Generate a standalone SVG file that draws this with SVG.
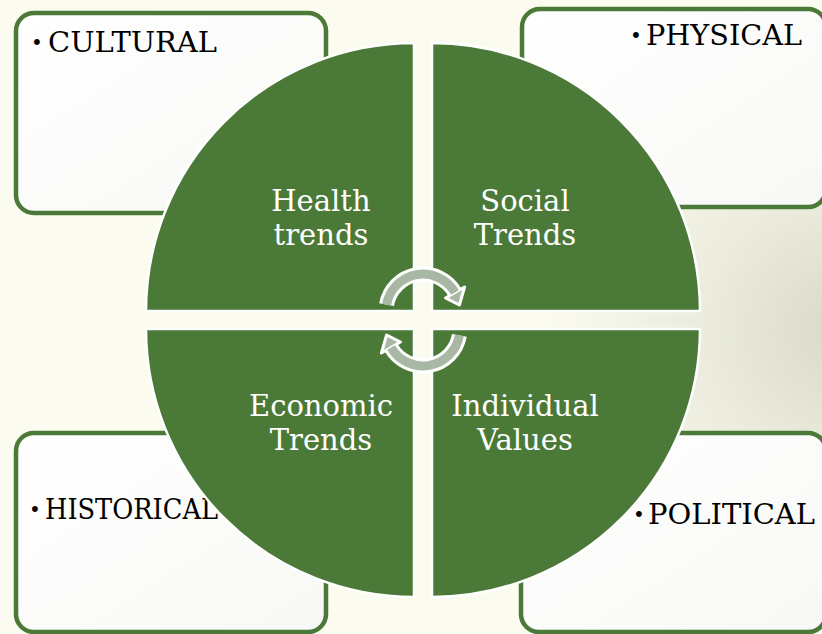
<svg xmlns="http://www.w3.org/2000/svg" width="822" height="634" viewBox="0 0 822 634">
<defs>
<radialGradient id="bg" cx="840" cy="330" r="300" gradientUnits="userSpaceOnUse">
<stop offset="0" stop-color="#D8D9C7"/>
<stop offset="0.45" stop-color="#EBECDD"/>
<stop offset="1" stop-color="#FBFBEF"/>
</radialGradient>
<linearGradient id="boxfill" x1="0" y1="0" x2="1" y2="1">
<stop offset="0" stop-color="#FFFFFF"/>
<stop offset="1" stop-color="#F8F8F6"/>
</linearGradient>
<style>
.box{fill:url(#boxfill);stroke:#4B7A38;stroke-width:4.5}
.quad{fill:#4B7A38;stroke:#FFFFFF;stroke-width:2.5}
.lbl{font-family:"DejaVu Serif","Liberation Serif",serif;font-size:27px;fill:#000}
.bul{font-family:"DejaVu Serif","Liberation Serif",serif;font-size:20px;fill:#000}
.ct{font-family:"DejaVu Serif","Liberation Serif",serif;font-size:29px;fill:#FFFFFF;text-anchor:middle}
.band-o{fill:none;stroke:#FFFFFF;stroke-width:15}
.band-i{fill:none;stroke:#A9B8A4;stroke-width:9}
.head{fill:#A9B8A4;stroke:#FFFFFF;stroke-width:3;stroke-linejoin:round}
</style>
</defs>
<rect width="822" height="634" fill="#FBFBEF"/>
<rect width="822" height="634" fill="url(#bg)"/>

<g id="cultural">
<rect class="box" x="16" y="13" width="310" height="200" rx="18"/>
<text class="bul" x="31" y="50">•</text>
<text class="lbl" x="48" y="52" textLength="169" lengthAdjust="spacingAndGlyphs">CULTURAL</text>
</g>
<g id="physical">
<rect class="box" x="522" y="9" width="304" height="198" rx="18"/>
<text class="bul" x="630" y="43">•</text>
<text class="lbl" x="646" y="45" textLength="156" lengthAdjust="spacingAndGlyphs">PHYSICAL</text>
</g>
<g id="historical">
<rect class="box" x="16" y="433" width="310" height="199" rx="18"/>
<text class="bul" x="29" y="517">•</text>
<text class="lbl" x="45" y="519" textLength="173" lengthAdjust="spacingAndGlyphs">HISTORICAL</text>
</g>
<g id="political">
<rect class="box" x="521" y="433" width="305" height="199" rx="18"/>
<text class="bul" x="633" y="522">•</text>
<text class="lbl" x="648" y="524" textLength="167" lengthAdjust="spacingAndGlyphs">POLITICAL</text>
</g>

<g id="health">
<path class="quad" d="M414 311 L146 311 A268 268 0 0 1 414 43 Z"/>
<text class="ct" x="321" y="211">Health</text>
<text class="ct" x="321" y="245">trends</text>
</g>
<g id="social">
<path class="quad" d="M432 311 L432 43 A268 268 0 0 1 700 311 Z"/>
<text class="ct" x="525" y="211">Social</text>
<text class="ct" x="525" y="245">Trends</text>
</g>
<g id="economic">
<path class="quad" d="M414 329 L414 597 A268 268 0 0 1 146 329 Z"/>
<text class="ct" x="321" y="416">Economic</text>
<text class="ct" x="321" y="450">Trends</text>
</g>
<g id="individual">
<path class="quad" d="M432 329 L700 329 A268 268 0 0 1 432 597 Z"/>
<text class="ct" x="525" y="416">Individual</text>
<text class="ct" x="525" y="450">Values</text>
</g>

<g id="connectors">
<path class="band-o" d="M386.6 304.6 A37 37 0 0 1 455 292.5"/>
<path class="band-o" d="M459.4 335.4 A37 37 0 0 1 391 347.5"/>
<polygon class="head" points="445.5,298 464.6,287 459.4,305"/>
<polygon class="head" points="400.5,342 381.4,353 386.6,335"/>
<path class="band-i" d="M386.6 304.6 A37 37 0 0 1 455 292.5"/>
<path class="band-i" d="M459.4 335.4 A37 37 0 0 1 391 347.5"/>
</g>
</svg>
